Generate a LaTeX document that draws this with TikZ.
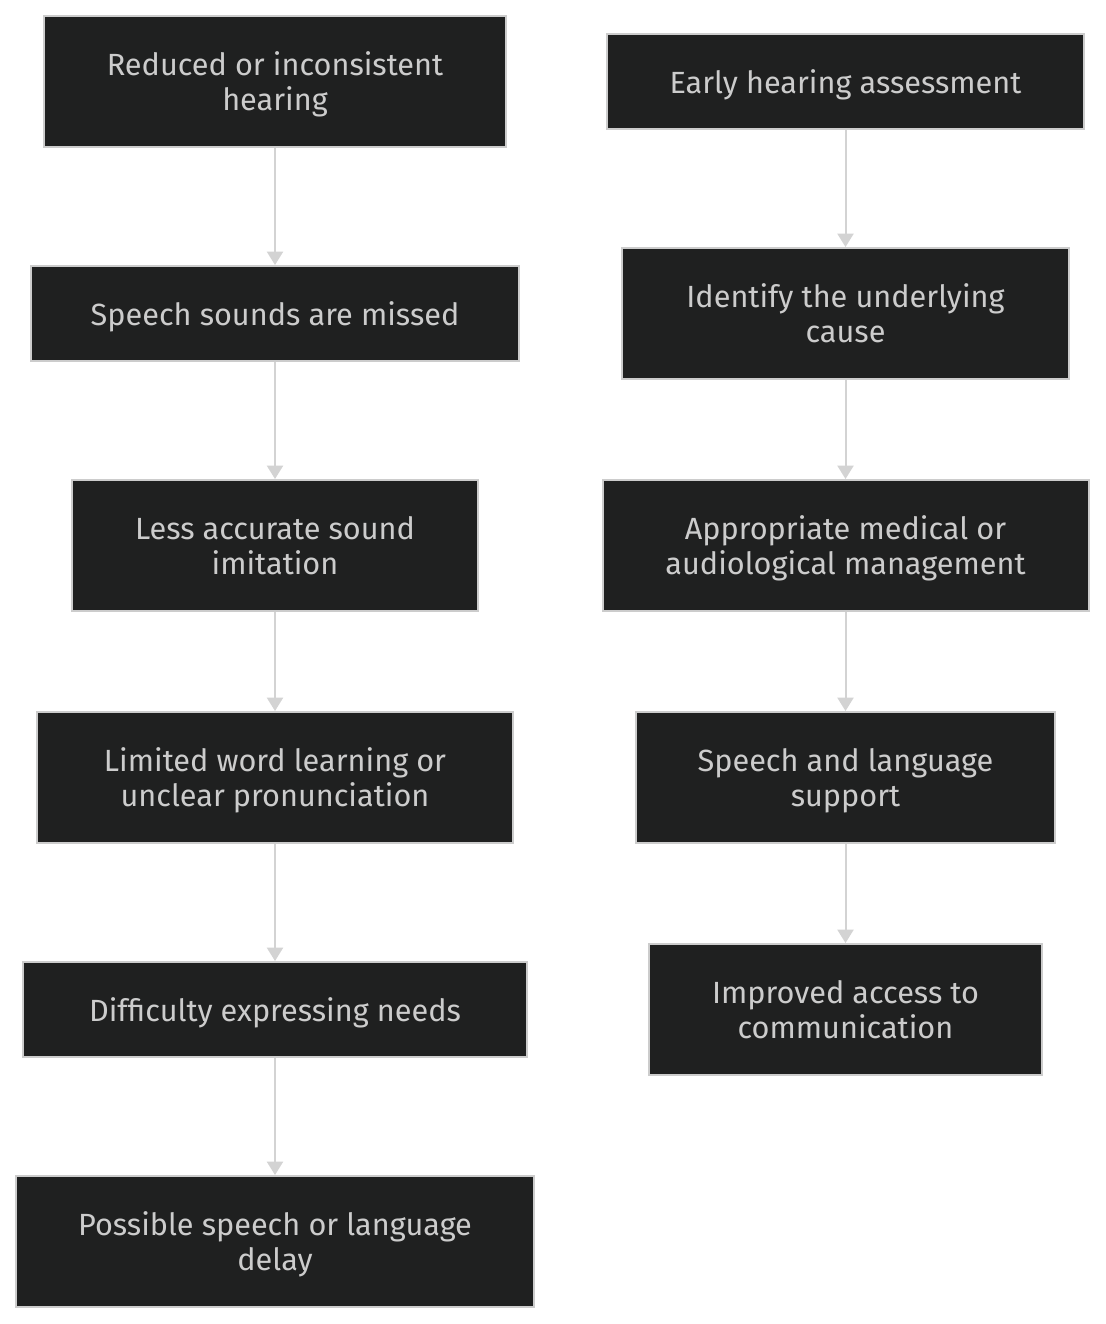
\documentclass[tikz,border=0pt]{standalone}
\usepackage{fontspec}
\setmainfont{Fira Sans}
\usetikzlibrary{arrows.meta, positioning}
\definecolor{boxfill}{HTML}{1F2020}
\definecolor{boxline}{HTML}{CCCCCC}
\definecolor{flowline}{HTML}{D3D3D3}

\tikzset{
  stepbox/.style={draw=boxline, line width=1.5pt, fill=boxfill, text=boxline,
    align=center, inner sep=0pt, text depth=0pt, font=\fontsize{23}{26.25}\selectfont},
  flow/.style={draw=flowline, line width=1.5pt, -{Triangle[width=12pt,length=10pt]}}
}

\begin{document}
\begin{tikzpicture}[x=0.75pt, y=-0.75pt]
\useasboundingbox (0,0) rectangle (1106,1324);

% left column: what happens
\node [stepbox, minimum width=462*0.75pt, minimum height=131*0.75pt] (reduced) at (275,81.5) {Reduced or inconsistent\\hearing};
\node [stepbox, minimum width=488*0.75pt, minimum height=95*0.75pt] (missed) at (275,313.5) {Speech sounds are missed};
\node [stepbox, minimum width=406*0.75pt, minimum height=131*0.75pt] (imitation) at (275,545.5) {Less accurate sound\\imitation};
\node [stepbox, minimum width=476*0.75pt, minimum height=131*0.75pt] (words) at (275,777.5) {Limited word learning or\\unclear pronunciation};
\node [stepbox, minimum width=504*0.75pt, minimum height=95*0.75pt] (needs) at (275,1009.5) {Difficulty expressing needs};
\node [stepbox, minimum width=518*0.75pt, minimum height=131*0.75pt] (delay) at (275,1241.5) {Possible speech or language\\delay};

% right column: what helps
\node [stepbox, minimum width=477*0.75pt, minimum height=95*0.75pt] (early) at (845.5,81.5) {Early hearing assessment};
\node [stepbox, minimum width=447*0.75pt, minimum height=131*0.75pt] (cause) at (845.5,313.5) {Identify the underlying\\cause};
\node [stepbox, minimum width=486*0.75pt, minimum height=131*0.75pt] (manage) at (845.5,545.5) {Appropriate medical or\\audiological management};
\node [stepbox, minimum width=419*0.75pt, minimum height=131*0.75pt] (support) at (845.5,777.5) {Speech and language\\support};
\node [stepbox, minimum width=393*0.75pt, minimum height=131*0.75pt] (access) at (845.5,1009.5) {Improved access to\\communication};

\draw [flow] (reduced) -- (missed);
\draw [flow] (missed) -- (imitation);
\draw [flow] (imitation) -- (words);
\draw [flow] (words) -- (needs);
\draw [flow] (needs) -- (delay);

\draw [flow] (early) -- (cause);
\draw [flow] (cause) -- (manage);
\draw [flow] (manage) -- (support);
\draw [flow] (support) -- (access);
\end{tikzpicture}
\end{document}
